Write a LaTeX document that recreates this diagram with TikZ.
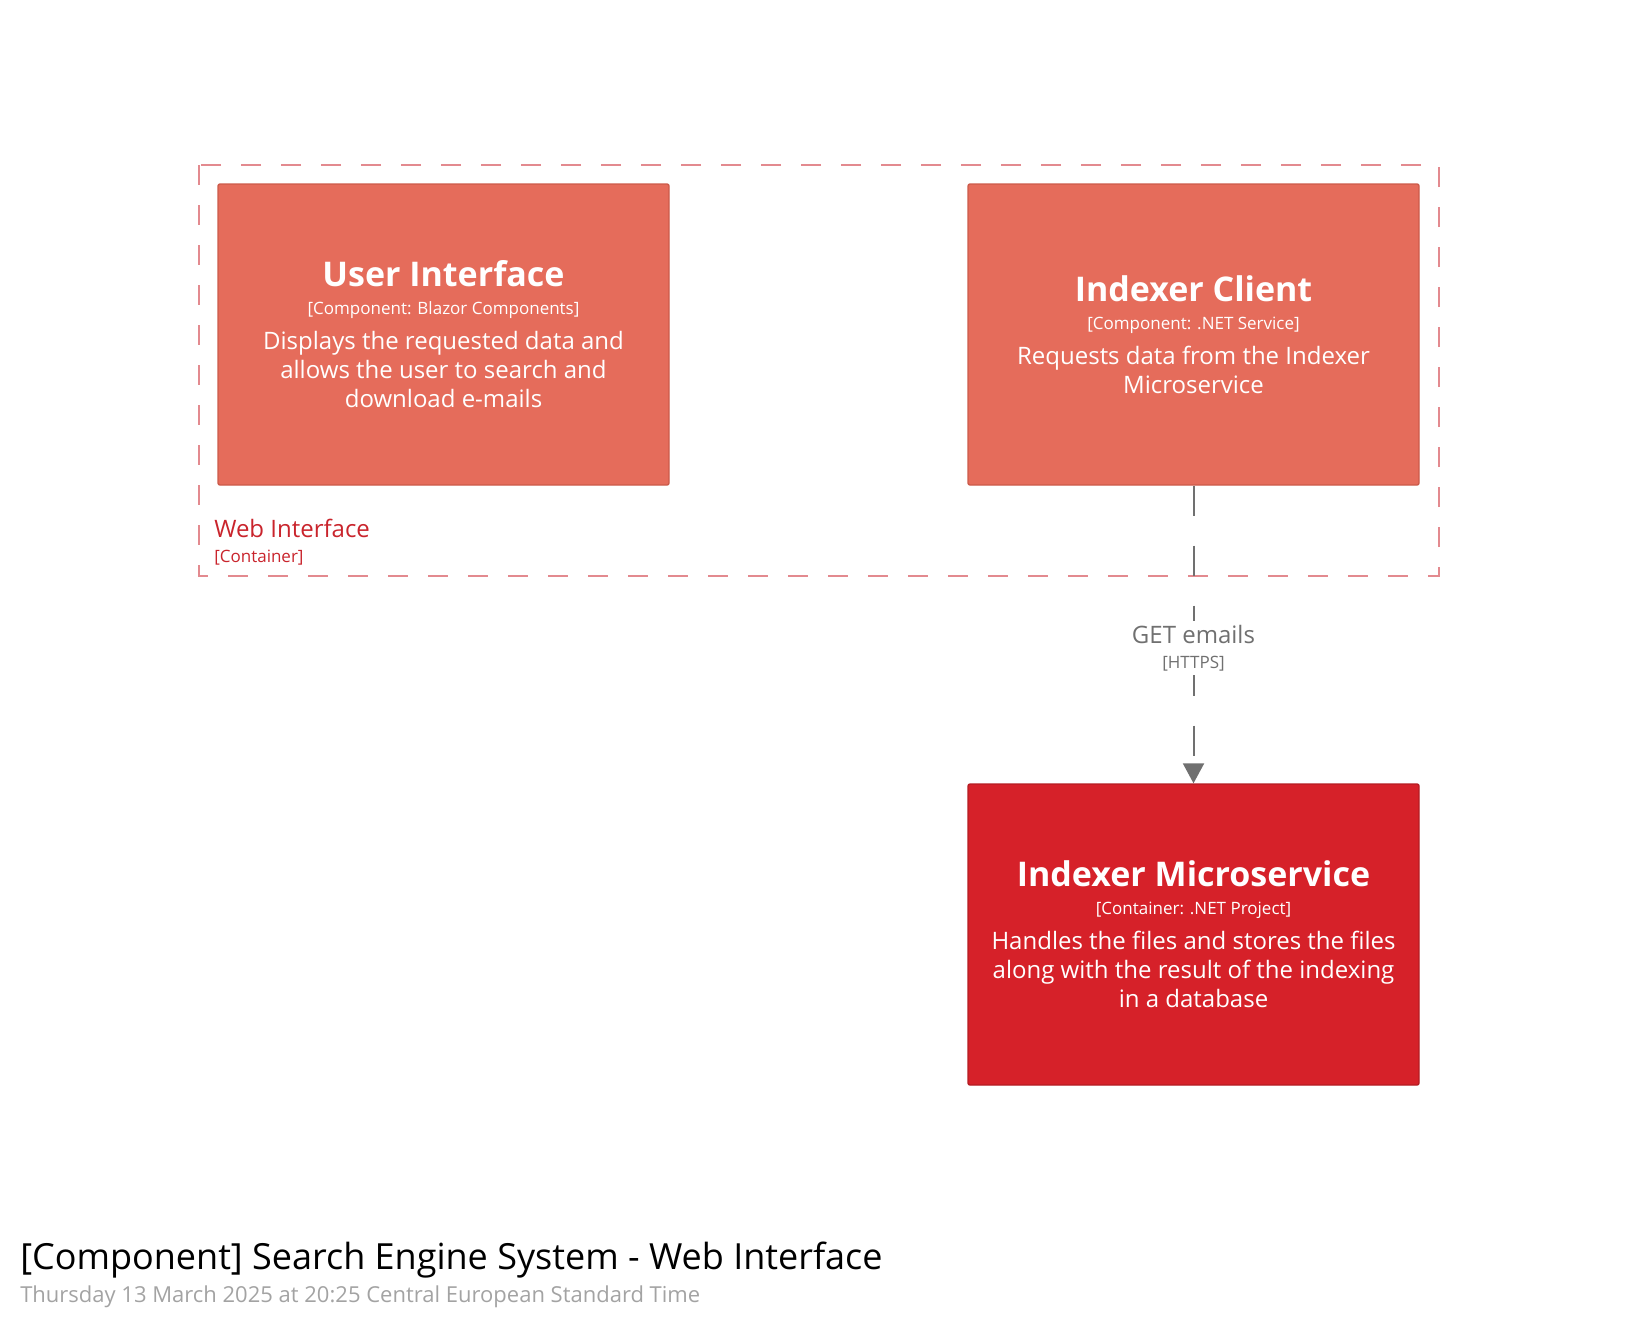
\documentclass[tikz,border=0pt]{standalone}
\usepackage{fontspec}
\setmainfont{Open Sans}
\usetikzlibrary{arrows.meta,positioning}

\definecolor{compred}{HTML}{E56C5B}
\definecolor{compline}{HTML}{CC5A4A}
\definecolor{contred}{HTML}{D62129}
\definecolor{contline}{HTML}{B51B22}
\definecolor{bndpink}{HTML}{E38A8F}
\definecolor{bndtext}{HTML}{C9242C}
\definecolor{relgray}{HTML}{707070}
\definecolor{dategray}{HTML}{A3A3A3}

\newcommand\elname[1]{{\fontsize{25.5}{30}\selectfont\bfseries #1}}
\newcommand\elmeta[1]{{\fontsize{12.75}{15}\selectfont #1}}

\begin{document}
\begin{tikzpicture}[x=0.75pt,y=-0.75pt,
  elbox/.style={rectangle,draw,line width=1pt,rounded corners=1.5pt,
    minimum width=338.25pt,minimum height=225.75pt,text width=315pt,
    align=flush center,text=white,font=\fontsize{18}{21.75}\selectfont},
  component/.style={elbox,fill=compred,draw=compline},
  container/.style={elbox,fill=contred,draw=contline},
  boundary/.style={draw=bndpink,line width=1.5pt,dash pattern=on 15pt off 15pt},
  rel/.style={draw=relgray,line width=1.5pt,dash pattern=on 22.5pt off 22.5pt,
    -{Triangle[length=15pt,width=15.75pt]}},
  rellabel/.style={fill=white,text=relgray,text width=100pt,align=flush center,
    inner xsep=2pt,inner ysep=3pt,font=\fontsize{18}{18.75}\selectfont},
  plain/.style={inner sep=0pt,anchor=base west}]
\useasboundingbox (0,0) rectangle (1640,1320);

\path % Web Interface boundary
 (199,165) coordinate (bndtl)
 (1439,576) coordinate (bndbr)
 ;
\draw[boundary] (bndtl) rectangle (bndbr);
\node[plain,text=bndtext,font=\fontsize{18}{21}\selectfont] (webname) at (214,537) {Web Interface};
\node[plain,text=bndtext,font=\fontsize{12.75}{15}\selectfont] (webmeta) at (214,562) {[Container]};

\node[component] (ui) at (443.5,334.5) {\elname{User Interface}\\[-0.75pt]
  \elmeta{[Component: Blazor Components]}\\[4.5pt]
  Displays the requested data and\\allows the user to search and\\download e-mails};

\node[component] (client) at (1193.5,334.5) {\elname{Indexer Client}\\[-0.75pt]
  \elmeta{[Component: .NET Service]}\\[4.5pt]
  Requests data from the Indexer\\Microservice};

\node[container] (micro) at (1193.5,934.5) {\elname{Indexer Microservice}\\[-0.75pt]
  \elmeta{[Container: .NET Project]}\\[4.5pt]
  Handles the files and stores the files\\along with the result of the indexing\\in a database};

\draw[rel] (client) -- node[rellabel,pos=0.545] (getmails) {GET emails\\\elmeta{[HTTPS]}} (micro);

% title
\node[plain,font=\fontsize{27}{32}\selectfont] (title) at (20,1269) {[Component] Search Engine System - Web Interface};
\node[plain,text=dategray,font=\fontsize{16.5}{20}\selectfont] (date) at (20,1302) {Thursday 13 March 2025 at 20:25 Central European Standard Time};

\end{tikzpicture}
\end{document}
